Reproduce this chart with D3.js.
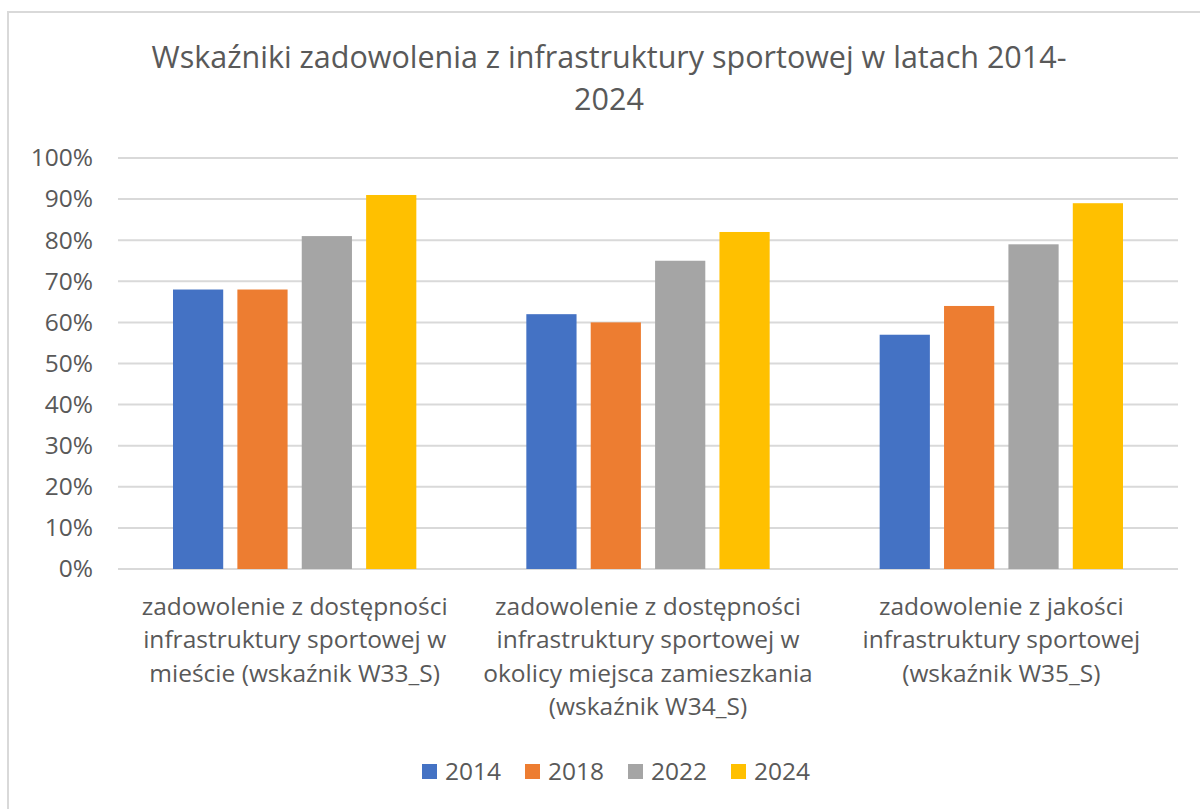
<!DOCTYPE html>
<html>
<head>
<meta charset="utf-8">
<script src="https://cdn.jsdelivr.net/npm/d3@7"></script>
<style>
  body { margin: 0; background: #fff; }
  text { font-family: "Open Sans", "Noto Sans", sans-serif; fill: #595959; }
</style>
</head>
<body>
<svg id="chart" width="1200" height="809"></svg>
<script>
// data
var titleLines = ["Wskaźniki zadowolenia z infrastruktury sportowej w latach 2014-", "2024"];
var categories = ["W33", "W34", "W35"];
var categoryLabels = [
	["zadowolenie z dostępności", "infrastruktury sportowej w", "mieście (wskaźnik W33_S)"],
	["zadowolenie z dostępności", "infrastruktury sportowej w", "okolicy miejsca zamieszkania", "(wskaźnik W34_S)"],
	["zadowolenie z jakości", "infrastruktury sportowej", "(wskaźnik W35_S)"]
];
var years = ["2014", "2018", "2022", "2024"];
var colors = ["#4472c4", "#ed7d31", "#a5a5a5", "#ffc000"];
var v2014 = [0.68, 0.62, 0.57];
var v2018 = [0.68, 0.60, 0.64];
var v2022 = [0.81, 0.75, 0.79];
var v2024 = [0.91, 0.82, 0.89];
var yTicks = [0, 0.1, 0.2, 0.3, 0.4, 0.5, 0.6, 0.7, 0.8, 0.9, 1.0];

var series = [v2014, v2018, v2022, v2024];

var svg = d3.select("#chart");

// outer frame (only top & left visible in the picture)
svg.append("rect")
	.attr("x", 8).attr("y", 12)
	.attr("width", 1300).attr("height", 900)
	.style("fill", "none")
	.style("stroke", "#d9d9d9")
	.style("stroke-width", 2);

// title
svg.append("g").selectAll("text")
	.data(titleLines)
	.enter().append("text")
	.attr("x", 609)
	.attr("y", function(d, i){ return 68 + i * 42; })
	.attr("text-anchor", "middle")
	.style("font-size", "30.5px")
	.text(function(d){ return d; });

var plotL = 118, plotR = 1178, plotT = 158, plotB = 569;

var x0 = d3.scaleBand().domain(categories).range([plotL, plotR]).paddingInner(0).paddingOuter(0);
var x1 = d3.scaleBand().domain(years).range([55, x0.bandwidth() - 55]).paddingInner(0.22).paddingOuter(0);
var y = d3.scaleLinear().domain([0, 1]).range([plotB, plotT]);

// gridlines
svg.append("g").selectAll("line")
	.data(yTicks)
	.enter().append("line")
	.attr("x1", plotL).attr("x2", plotR)
	.attr("y1", function(d){ return y(d); })
	.attr("y2", function(d){ return y(d); })
	.style("stroke", "#d9d9d9")
	.style("stroke-width", 2);

// y axis labels
var yAxis = d3.axisLeft(y).tickValues(yTicks).tickFormat(d3.format(".0%")).tickSize(0).tickPadding(0);
var ga = svg.append("g").attr("transform", "translate(93,0)").call(yAxis);
ga.select(".domain").remove();
ga.selectAll("text")
	.style("font-size", "24.5px")
	.style("font-family", "\"Open Sans\", sans-serif")
	.attr("fill", "#595959");

// bars
var groups = svg.append("g").selectAll("g")
	.data(categories)
	.enter().append("g")
	.attr("transform", function(d){ return "translate(" + x0(d) + ",0)"; });

groups.selectAll("rect")
	.data(function(d, ci){ return years.map(function(yr, si){ return {year: yr, value: series[si][ci], color: colors[si]}; }); })
	.enter().append("rect")
	.attr("x", function(d){ return x1(d.year); })
	.attr("width", x1.bandwidth())
	.attr("y", function(d){ return y(d.value); })
	.attr("height", function(d){ return y(0) - y(d.value); })
	.style("fill", function(d){ return d.color; });

// category labels
groups.each(function(d, ci){
	d3.select(this).selectAll("text")
		.data(categoryLabels[ci])
		.enter().append("text")
		.attr("x", x0.bandwidth() / 2)
		.attr("y", function(t, i){ return 615 + i * 33.3; })
		.attr("text-anchor", "middle")
		.style("font-size", "24.5px")
		.text(function(t){ return t; });
});

// legend
var legend = svg.append("g").selectAll("g")
	.data(years)
	.enter().append("g")
	.attr("transform", function(d, i){ return "translate(" + (422 + i * 103) + ",764)"; });
legend.append("rect")
	.attr("width", 15).attr("height", 15)
	.style("fill", function(d, i){ return colors[i]; });
legend.append("text")
	.attr("x", 23).attr("y", 16)
	.style("font-size", "24.5px")
	.text(function(d){ return d; });
</script>
</body>
</html>
